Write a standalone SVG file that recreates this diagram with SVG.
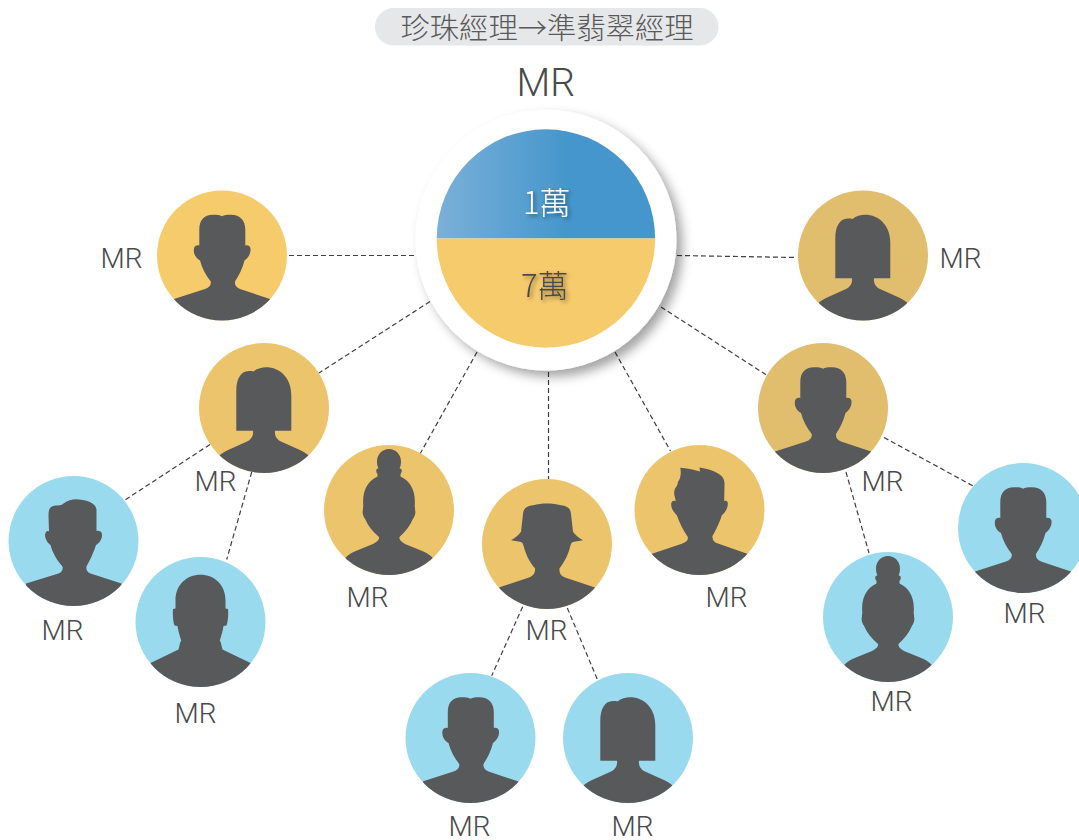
<svg xmlns="http://www.w3.org/2000/svg" width="1079" height="840" viewBox="0 0 1079 840">
<style>
.lbl{font-family:Roboto,"Liberation Sans",sans-serif;font-weight:300;font-size:28px;fill:#4a4a4c}
.cjk{font-family:"Noto Sans CJK TC","Noto Sans CJK SC",sans-serif;font-weight:300}
.sil{fill:#58595b}
.con line{stroke:#3f3f3f;stroke-width:1.2;stroke-dasharray:5 3;fill:none}
.y1{fill:#f6cb6c}.y2{fill:#ecc46c}.y3{fill:#e1bd6e}.b{fill:#9adaee}
</style>
<defs>
<clipPath id="cc"><circle r="65"/></clipPath>
<linearGradient id="blueg" x1="0" y1="0" x2="1" y2="0"><stop offset="0" stop-color="#7bb0d9"/><stop offset=".6" stop-color="#4596cc"/><stop offset="1" stop-color="#4596cc"/></linearGradient>
<filter id="ds" x="-20%" y="-20%" width="150%" height="150%"><feDropShadow dx="6" dy="6" stdDeviation="5.500" flood-color="#000" flood-opacity=".36"/></filter>
<filter id="ts" x="-20%" y="-20%" width="150%" height="150%"><feDropShadow dx="2" dy="2" stdDeviation="2" flood-color="#000" flood-opacity=".45"/></filter>
<g id="male" clip-path="url(#cc)"><path class="sil" d="M-48 43.500L-17 33.500C-13 32-10.500 29-11.300 26C-16 20-20 13-22 5C-26 3-29-2-28-7C-27.500-10-25-10.500-22.700-10L-22.700-26C-22.700-35-18-40.700-9-40.700C-5-40.700-2-40.500 0-39.300C2-40.500 5-40.700 9-40.700C18-40.700 23.300-35 23.300-26L23.300-10C25.500-10.500 28-10 28.500-7C29-2 26 3 22.500 5C20.500 13 17 20 13 26C12.500 29 14 32 18 33.500L48 43.500L48 70L-48 70Z"/></g>
<g id="male2" clip-path="url(#cc)"><path class="sil" d="M-47.500 42.500L-15 32.500C-11 31-10.500 28-11 25.500C-16 20-21 12-23 4C-26 2-29-3-28.300-7C-27.500-10-26-10.300-24.500-9.500L-25-25C-25-33-23-35-18-35.500C-15-35.500-12-35.500-10-37.500C-6-40.500-1-41.700 2-41.700C12-41.700 23-38 23-31L23-10C25-10.500 28-10 28.500-7C29-2 26 2 22.500 4C20 12 16 20 13 25.500C12.500 28 13 31 17 32.500L48 42.500L48 70L-48 70Z"/></g>
<g id="bald" clip-path="url(#cc)"><path class="sil" d="M-50 41L-22 27.500C-21 24-20.500 20-19.300 18.500C-21 13-22.500 8-23 4L-26 3.500C-27.500 0-28-8-27.500-13L-25-13.500L-25-22C-25-37-14-47.300 0-47.300C14-47.300 25-37 25-22L25-13.500L27.500-13C28-8 27.500 0 26 3.500L23 4C22.500 8 21 13 19.300 18.500C20.500 20 21 24 22 27.500L50 41L50 70L-50 70Z"/></g>
<g id="female" clip-path="url(#cc)"><path class="sil" d="M-27.700 22.700L-27.700-17C-27.700-28-24-37-15-37C-13-37-11.500-37-10.500-36.500C-7-39.500-2-40.700 2-40.700C16-40.700 27.300-30 27.300-13L27.300 22.700L11 22.700C10.500 27 12 31 17 33.500L37 42.500C40 44 43 46 44.500 47.500L44 70L-44 70L-44.500 47.500C-43 46-40 44-37 42.500L-17 33.500C-12 31-10.500 27-11 22.700Z"/></g>
<g id="bun" clip-path="url(#cc)"><path class="sil" d="M-43.500 47.500C-40 44-36 42-32 40.500L-16 34C-11 31.500-9.500 29-10 27C-16 22-21 16-24 8.700C-26 6-27 2-26 0C-26.200-1-26-2-25.700-4C-27-20-21-29-11.500-33.500L-11.500-36C-12.800-37-13-39.500-12.500-40.500C-12-41.500-11.500-41.500-10.500-41.500C-11.500-43-12-46-12-48.700C-12-55.500-6.500-61 0-61C6.500-61 12-55.500 12-48.700C12-46 11.500-43 10.500-41.500C11.500-41.500 12-41.500 12.500-40.500C13-39.500 12.800-37 11.500-36L11.500-33.500C21-29 27-20 25.700-4C26-2 26.200-1 26 0C27 2 26 6 24 8.700C21 16 16 22 10.500 27C10 29 11.500 31.500 16 34L32 40.500C36 42 40 44 43.500 47.500L43.500 70L-43.500 70Z"/></g>
<g id="hat" clip-path="url(#cc)"><path class="sil" d="M-48 43.500L-18 33.500C-14 32-11.500 29-12 24.300C-17 19-21 11-23 3.300C-24-1-25-2-27-2.300L-36-3.700C-32-6-28.500-9-26-12.300L-24-30C-23.500-36-20-38-14-38.700C-5-41 5-41 14-38.700C20-38 23.500-36 24-30L26-12.300C28.500-9 32-6 36-3.700L27-2.300C25-2 24-1 23 3.300C21 11 17 19 12.500 24.300C12 29 14 32 18 33.500L48 43.500L48 70L-48 70Z"/></g>
<g id="spiky" clip-path="url(#cc)"><path class="sil" d="M-47.500 43.700L-17.700 33.700C-13 32-11 30-11.700 27C-16 21-20 13-22.700 5.300C-26 2-28.500-2-28.300-6C-28-9.500-26-9.700-23.700-9C-24.500-13-26-16-25-19.700C-24.500-23-21.500-24-21.700-28C-19-31-18-37-19.300-42.300C-13-42-6-40.500 0.700-38.500C0.500-40 0-41 0-42.500C7-41.500 14-39.500 19-36.300C23-34 25-31 25-26L24.700-9C26-9.500 28-9.500 28.300-7C28.500-2 26 2 22.300 5.300C20 13 16 21 13 26C12.500 30 15 32 17 33L47.700 43.700L48 70L-48 70Z"/></g>
</defs>
<g id="connectors" class="con">
<line x1="289" y1="255.500" x2="414" y2="255.500"/>
<line x1="677" y1="255.500" x2="797" y2="257.500"/>
<line x1="430" y1="301.500" x2="319" y2="373"/>
<line x1="477" y1="352" x2="420" y2="454"/>
<line x1="548.500" y1="372" x2="548.500" y2="479"/>
<line x1="615" y1="352" x2="670.500" y2="451"/>
<line x1="661" y1="307" x2="768" y2="376"/>
<line x1="210" y1="444.500" x2="125" y2="500"/>
<line x1="251.700" y1="472" x2="226.700" y2="559.500"/>
<line x1="884" y1="437.500" x2="975" y2="487"/>
<line x1="846" y1="472" x2="869" y2="553"/>
<line x1="522.700" y1="606.700" x2="491.700" y2="675.700"/>
<line x1="567.300" y1="608" x2="597.300" y2="679.300"/>
</g>
<g id="title">
<rect x="375" y="8" width="343.500" height="37.500" rx="18.700" fill="#e6e7e8"/>
<text class="cjk" x="400.500" y="39" font-size="29" fill="#58595b" textLength="293" lengthAdjust="spacingAndGlyphs">珍珠經理→準翡翠經理</text>
</g>
<g id="root">
<text x="516.500" y="96" style="font-family:Roboto,'Liberation Sans',sans-serif;font-weight:300;font-size:39px;fill:#4a4a4c">MR</text>
<circle cx="546" cy="240" r="130.500" fill="#fff" filter="url(#ds)"/>
<path d="M436.700 238.500A109.200 109.200 0 0 1 655.100 238.500Z" fill="url(#blueg)"/>
<path d="M436.700 238.500A109.200 109.200 0 0 0 655.100 238.500Z" fill="#f6cb6c"/>
<text class="cjk" x="523" y="214" font-size="31" fill="#fff" filter="url(#ts)">1萬</text>
<text class="cjk" x="521" y="297" font-size="31" fill="#4a4a4c" filter="url(#ts)">7萬</text>
</g>
<g id="n1"><circle class="y1" cx="222" cy="255.500" r="65"/><use href="#male" x="222" y="255.500"/><text class="lbl" x="100.500" y="268">MR</text></g>
<g id="n2"><circle class="y3" cx="863" cy="255.500" r="65"/><use href="#female" x="863" y="255.500"/><text class="lbl" x="939.500" y="268">MR</text></g>
<g id="n3"><circle class="y2" cx="264" cy="408" r="65"/><use href="#female" x="264" y="408"/><text class="lbl" x="194.500" y="491">MR</text></g>
<g id="n4"><circle class="y3" cx="823" cy="408" r="65"/><use href="#male" x="823" y="408"/><text class="lbl" x="861.500" y="491">MR</text></g>
<g id="n5"><circle class="y2" cx="389" cy="510" r="65"/><use href="#bun" x="389" y="510"/><text class="lbl" x="346.500" y="607">MR</text></g>
<g id="n6"><circle class="y2" cx="547" cy="544" r="65"/><use href="#hat" x="547" y="544"/><text class="lbl" x="525.500" y="640">MR</text></g>
<g id="n7"><circle class="y2" cx="699.500" cy="510" r="65"/><use href="#spiky" x="699.500" y="510"/><text class="lbl" x="705.500" y="607">MR</text></g>
<g id="n8"><circle class="b" cx="73.500" cy="541" r="65"/><use href="#male2" x="73.500" y="541"/><text class="lbl" x="41.500" y="640">MR</text></g>
<g id="n9"><circle class="b" cx="200.500" cy="622" r="65"/><use href="#bald" x="200.500" y="622"/><text class="lbl" x="174.500" y="723">MR</text></g>
<g id="n10"><circle class="b" cx="470.500" cy="738" r="65"/><use href="#male" x="470.500" y="738"/><text class="lbl" x="448.500" y="836">MR</text></g>
<g id="n11"><circle class="b" cx="628" cy="738" r="65"/><use href="#female" x="628" y="738"/><text class="lbl" x="611.500" y="836">MR</text></g>
<g id="n12"><circle class="b" cx="1023" cy="528" r="65"/><use href="#male" x="1023" y="528"/><text class="lbl" x="1003.500" y="623">MR</text></g>
<g id="n13"><circle class="b" cx="888" cy="617" r="65"/><use href="#bun" x="888" y="617"/><text class="lbl" x="870.500" y="711">MR</text></g>
</svg>
